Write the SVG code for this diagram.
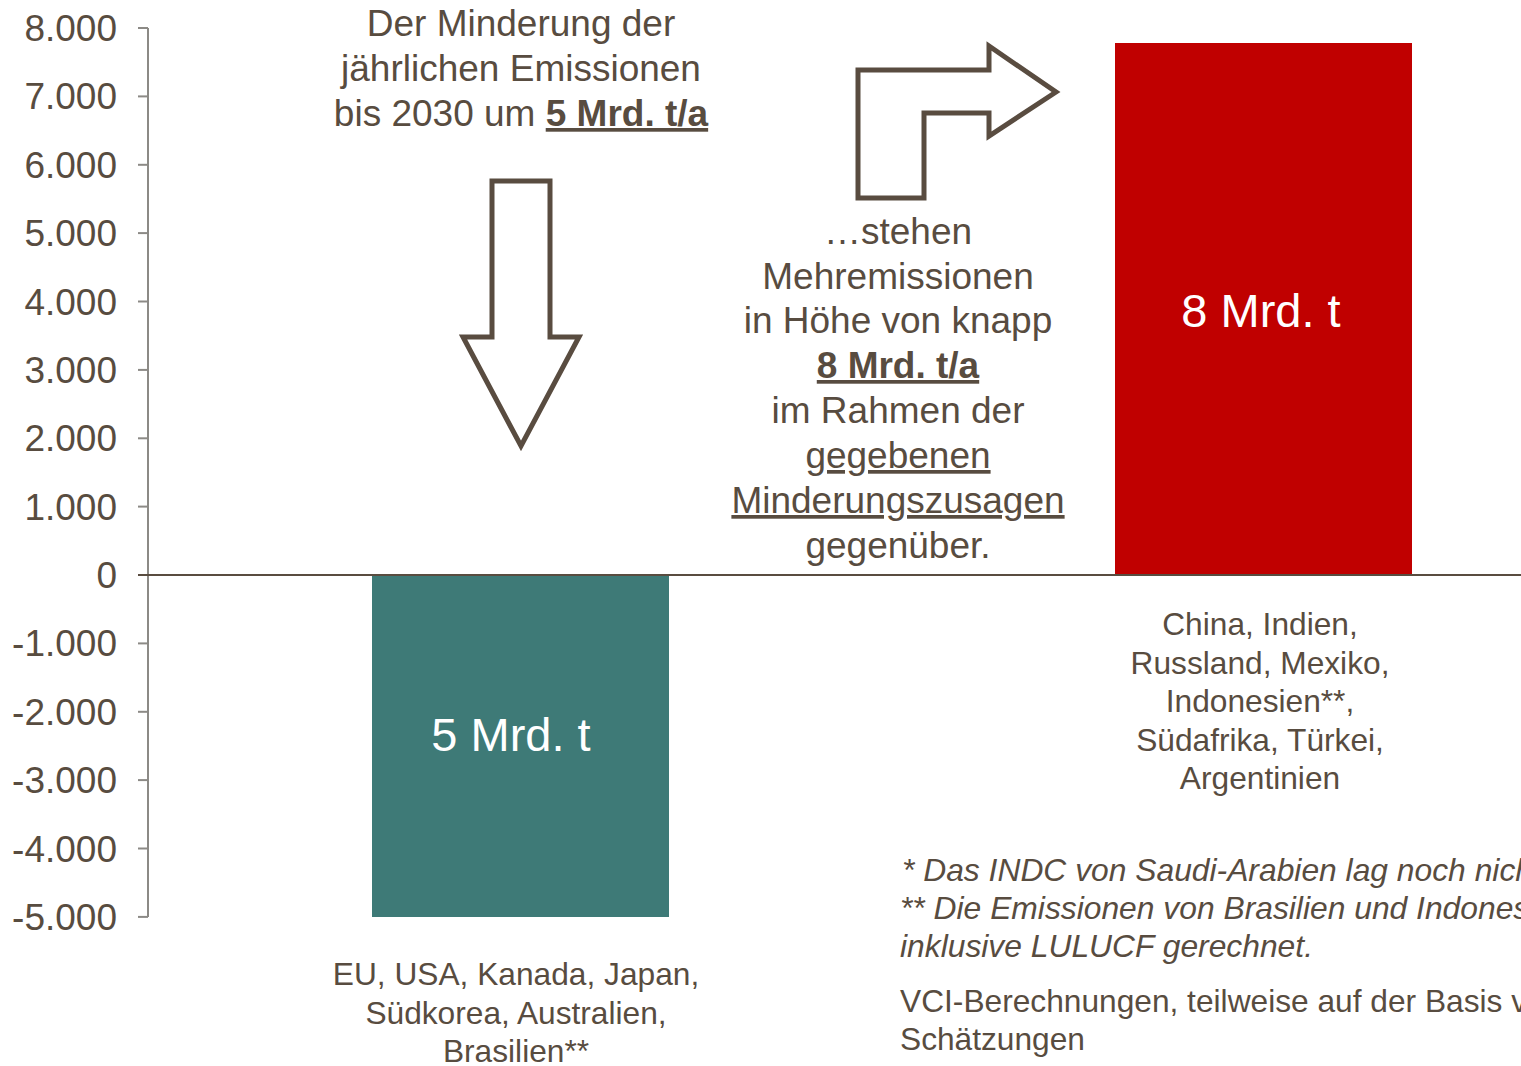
<svg xmlns="http://www.w3.org/2000/svg" width="1521" height="1066" viewBox="0 0 1521 1066">
<style>
text{font-family:"Liberation Sans",Arial,sans-serif;fill:#584c40}
.ax{font-size:37px;text-anchor:end}
.big{font-size:37px;text-anchor:middle}
.lab{font-size:31.7px;text-anchor:middle}
.fn{font-size:31.8px;font-style:italic}
.src{font-size:31.7px}
.bar{font-size:47px;text-anchor:middle;fill:#ffffff}
.b{font-weight:bold}
.u{text-decoration:underline}
.arrow{fill:#ffffff;stroke:#594c40;stroke-width:5;stroke-linejoin:miter}
</style>
<rect width="1521" height="1066" fill="#ffffff"/>
<g id="axis">
<line x1="148" y1="28" x2="148" y2="917" stroke="#8c8a86" stroke-width="2"/>
<g stroke="#8c8a86" stroke-width="2">
<line x1="138" y1="28" x2="148" y2="28"/>
<line x1="138" y1="96.4" x2="148" y2="96.4"/>
<line x1="138" y1="164.8" x2="148" y2="164.8"/>
<line x1="138" y1="233.1" x2="148" y2="233.1"/>
<line x1="138" y1="301.5" x2="148" y2="301.5"/>
<line x1="138" y1="369.9" x2="148" y2="369.9"/>
<line x1="138" y1="438.3" x2="148" y2="438.3"/>
<line x1="138" y1="506.6" x2="148" y2="506.6"/>
<line x1="138" y1="643.4" x2="148" y2="643.4"/>
<line x1="138" y1="711.8" x2="148" y2="711.8"/>
<line x1="138" y1="780.1" x2="148" y2="780.1"/>
<line x1="138" y1="848.5" x2="148" y2="848.5"/>
<line x1="138" y1="916.9" x2="148" y2="916.9"/>
</g>
<text class="ax" x="117" y="41">8.000</text>
<text class="ax" x="117" y="109.4">7.000</text>
<text class="ax" x="117" y="177.8">6.000</text>
<text class="ax" x="117" y="246.1">5.000</text>
<text class="ax" x="117" y="314.5">4.000</text>
<text class="ax" x="117" y="382.9">3.000</text>
<text class="ax" x="117" y="451.3">2.000</text>
<text class="ax" x="117" y="519.6">1.000</text>
<text class="ax" x="117" y="588">0</text>
<text class="ax" x="117" y="656.4">-1.000</text>
<text class="ax" x="117" y="724.8">-2.000</text>
<text class="ax" x="117" y="793.1">-3.000</text>
<text class="ax" x="117" y="861.5">-4.000</text>
<text class="ax" x="117" y="929.9">-5.000</text>
</g>
<g id="bar-reduction">
<rect x="372" y="575" width="297" height="342" fill="#3e7a77"/>
<text class="bar" x="511" y="751">5 Mrd. t</text>
</g>
<g id="bar-increase">
<rect x="1115" y="43" width="297" height="532" fill="#c00000"/>
<text class="bar" x="1261" y="327">8 Mrd. t</text>
</g>
<line id="zero-line" x1="138" y1="575" x2="1521" y2="575" stroke="#594c40" stroke-width="2"/>
<g id="title-left">
<text class="big" x="521" y="36">Der Minderung der</text>
<text class="big" x="521" y="81">jährlichen Emissionen</text>
<text class="big" x="521" y="126">bis 2030 um <tspan class="b u">5 Mrd. t/a</tspan></text>
</g>
<g id="text-middle">
<text class="big" x="898" y="244">…stehen</text>
<text class="big" x="898" y="289">Mehremissionen</text>
<text class="big" x="898" y="333">in Höhe von knapp</text>
<text class="big b u" x="898" y="378">8 Mrd. t/a</text>
<text class="big" x="898" y="423">im Rahmen der</text>
<text class="big u" x="898" y="468">gegebenen</text>
<text class="big u" x="898" y="513">Minderungszusagen</text>
<text class="big" x="898" y="558">gegenüber.</text>
</g>
<g id="connectors">
<path id="arrow-down" class="arrow" d="M492,181 L550,181 L550,337 L579,337 L521,446 L463,337 L492,337 Z"/>
<path id="arrow-bent" class="arrow" d="M858,198 L858,70 L989,70 L989,46 L1056,92 L989,136 L989,113 L924,113 L924,198 Z"/>
</g>
<g id="label-left">
<text class="lab" x="516" y="985">EU, USA, Kanada, Japan,</text>
<text class="lab" x="516" y="1024">Südkorea, Australien,</text>
<text class="lab" x="516" y="1062">Brasilien**</text>
</g>
<g id="label-right">
<text class="lab" x="1260" y="635">China, Indien,</text>
<text class="lab" x="1260" y="674">Russland, Mexiko,</text>
<text class="lab" x="1260" y="712">Indonesien**,</text>
<text class="lab" x="1260" y="751">Südafrika, Türkei,</text>
<text class="lab" x="1260" y="789">Argentinien</text>
</g>
<g id="footnotes">
<text class="fn" x="902" y="881">* Das INDC von Saudi-Arabien lag noch nicht</text>
<text class="fn" x="900" y="919">** Die Emissionen von Brasilien und Indonesien</text>
<text class="fn" x="900" y="957">inklusive LULUCF gerechnet.</text>
<text class="src" x="900" y="1012">VCI-Berechnungen, teilweise auf der Basis von</text>
<text class="src" x="900" y="1050">Schätzungen</text>
</g>
</svg>
